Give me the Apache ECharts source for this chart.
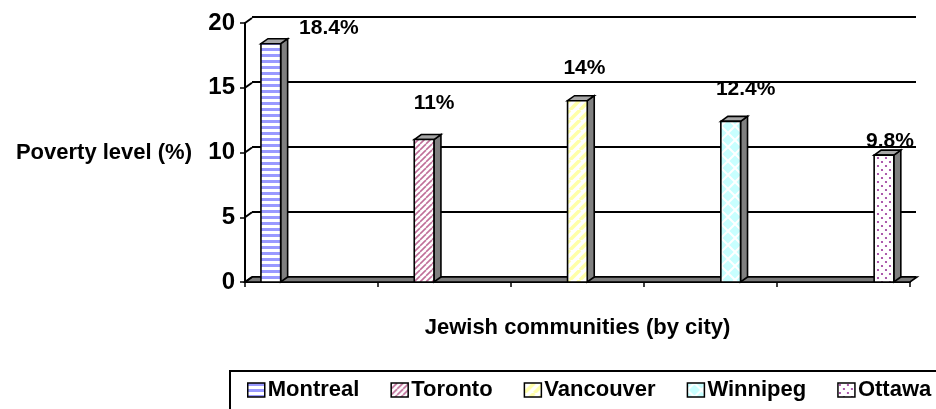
<!DOCTYPE html>
<html><head><meta charset="utf-8">
<script src="https://cdn.jsdelivr.net/npm/echarts@6/dist/echarts.min.js"></script>
<style>html,body{margin:0;padding:0;background:#fff}#c{width:936px;height:409px}</style>
</head><body><div id="c"></div>
<script>
// ---- data ----
const cities = ['Montreal', 'Toronto', 'Vancouver', 'Winnipeg', 'Ottawa'];
const povertyPct = [18.4, 11, 14, 12.4, 9.8];
const yTicks = [0, 5, 10, 15, 20];
const yAxisTitle = 'Poverty level (%)';
const xAxisTitle = 'Jewish communities (by city)';

// ---- styling ----
const FONT = '"Liberation Sans", Arial, sans-serif';
const DX = 7, DY = 5;           // 3D depth offset
function makePattern(w, h, draw) {
  const c = document.createElement('canvas');
  c.width = w; c.height = h;
  const g = c.getContext('2d');
  g.fillStyle = '#fff'; g.fillRect(0, 0, w, h);
  draw(g, w, h);
  return { image: c, repeat: 'repeat' };
}
function diag(g, s, color, lw) {
  g.strokeStyle = color; g.lineWidth = lw;
  for (const k of [-s, 0, s]) { g.beginPath(); g.moveTo(k, s); g.lineTo(k + s, 0); g.stroke(); }
}
const patterns = [
  makePattern(6, 6, g => { g.fillStyle = '#9999ff'; g.fillRect(0, 0, 6, 3); }),
  makePattern(6, 6, g => diag(g, 6, '#c0709a', 1.6)),
  makePattern(10, 10, g => diag(g, 10, '#ffffa8', 3.5)),
  makePattern(14, 14, (g) => {
    g.fillStyle = '#c8ffff'; g.fillRect(0, 0, 14, 14);
    g.strokeStyle = '#ffffff'; g.lineWidth = 2;
    g.beginPath(); g.moveTo(0, 7); g.lineTo(7, 0); g.lineTo(14, 7); g.lineTo(7, 14); g.closePath(); g.stroke();
  }),
  makePattern(8, 8, g => {
    g.fillStyle = '#993399';
    g.beginPath(); g.arc(2, 2, 1.1, 0, Math.PI * 2); g.fill();
    g.beginPath(); g.arc(6, 6, 1.1, 0, Math.PI * 2); g.fill();
  })
];
const labelShift = [[58, -16], [10, -36], [7, -32], [15, -32], [6, -14]];

function barRender(i) {
  return function (params, api) {
    const v = api.value(1);
    const top = api.coord([i, v]);
    const base = api.coord([i, 0]);
    const band = api.size([1, 0])[0];
    const start = top[0] - band / 2;
    const x0 = start + band * 0.12 + i * band * 0.1526;
    const w = band * 0.148;
    const yt = top[1], yb = base[1];
    const stroke = { stroke: '#000', lineWidth: 1.6 };
    return {
      type: 'group',
      children: [
        { type: 'polygon', shape: { points: [[x0 + w, yt], [x0 + w + DX, yt - DY], [x0 + w + DX, yb - DY], [x0 + w, yb]] },
          style: Object.assign({ fill: '#808080' }, stroke) },
        { type: 'polygon', shape: { points: [[x0, yt], [x0 + DX, yt - DY], [x0 + w + DX, yt - DY], [x0 + w, yt]] },
          style: Object.assign({ fill: '#a6a6a6' }, stroke) },
        { type: 'rect', shape: { x: x0, y: yt, width: w, height: yb - yt },
          style: Object.assign({ fill: patterns[i] }, stroke) },
        { type: 'text', x: x0 + w / 2 + labelShift[i][0], y: yt + labelShift[i][1],
          style: { text: v + '%', font: 'bold 21px ' + FONT, fill: '#000', align: 'center', verticalAlign: 'middle' } }
      ]
    };
  };
}

const series = [
  {
    type: 'custom', name: 'floor', xAxisIndex: 0, yAxisIndex: 0, z: 1, silent: true,
    data: [[0, 0]],
    renderItem: function (params, api) {
      const cs = params.coordSys;
      const y0 = api.coord([0, 0])[1];
      return { type: 'polygon', shape: { points: [[cs.x, y0], [cs.x + cs.width, y0], [cs.x + cs.width + DX, y0 - DY], [cs.x + DX, y0 - DY]] },
        style: { fill: '#7a7a7a', stroke: '#000', lineWidth: 1.6 } };
    }
  },
  {
    type: 'custom', name: 'wall', xAxisIndex: 0, yAxisIndex: 0, z: 1, silent: true,
    data: yTicks.map(v => [0, v]),
    renderItem: function (params, api) {
      const cs = params.coordSys;
      const y = api.coord([0, api.value(1)])[1];
      return { type: 'line', shape: { x1: cs.x, y1: y, x2: cs.x + DX, y2: y - DY },
        style: { stroke: '#000', lineWidth: 2 } };
    }
  }
];
cities.forEach((c, i) => {
  series.push({
    type: 'custom', name: c, xAxisIndex: 0, yAxisIndex: 0, z: 3,
    itemStyle: { color: patterns[i], borderColor: '#000', borderWidth: 1.5 },
    data: [[i, povertyPct[i]]],
    renderItem: barRender(i)
  });
});

const chart = echarts.init(document.getElementById('c'), null, { renderer: 'canvas' });
chart.setOption({
  animation: false,
  backgroundColor: '#fff',
  grid: [
    { left: 245, top: 23, right: 26, bottom: 127 },
    { left: 252, top: 17, right: 20, bottom: 132 }
  ],
  xAxis: [
    { type: 'category', gridIndex: 0, data: cities, boundaryGap: true,
      axisLine: { lineStyle: { color: '#000', width: 2 } },
      axisTick: { show: true, length: 5, interval: 0, lineStyle: { color: '#000', width: 1.5 } },
      axisLabel: { show: false },
      name: xAxisTitle, nameLocation: 'middle', nameGap: 35,
      nameTextStyle: { fontFamily: FONT, fontWeight: 'bold', fontSize: 22, color: '#000' } },
    { type: 'category', gridIndex: 1, data: cities, show: false }
  ],
  yAxis: [
    { type: 'value', gridIndex: 0, min: 0, max: 20, interval: 5,
      axisLine: { show: true, lineStyle: { color: '#000', width: 2 } },
      axisTick: { show: true, length: 5, lineStyle: { color: '#000', width: 1.5 } },
      axisLabel: { margin: 10, fontFamily: FONT, fontWeight: 'bold', fontSize: 24, color: '#000' },
      splitLine: { show: false },
      name: yAxisTitle, nameLocation: 'middle', nameRotate: 0, nameGap: 53,
      nameTextStyle: { fontFamily: FONT, fontWeight: 'bold', fontSize: 22, color: '#000' } },
    { type: 'value', gridIndex: 1, min: 0, max: 20, interval: 5,
      axisLine: { show: false }, axisTick: { show: false }, axisLabel: { show: false },
      splitLine: { show: true, lineStyle: { color: '#000', width: 2 } } }
  ],
  legend: {
    data: cities, left: 230, top: 371, width: 700, orient: 'horizontal',
    padding: [8, 40, 20, 17], itemGap: 31, itemWidth: 17, itemHeight: 14,
    borderColor: '#000', borderWidth: 2, icon: 'rect',
    itemStyle: { borderColor: '#000', borderWidth: 1.5 },
    textStyle: { fontFamily: FONT, fontWeight: 'bold', fontSize: 22, color: '#000', padding: [0, 0, 0, -2] },
    selectedMode: false
  },
  series: series
});
</script></body></html>
